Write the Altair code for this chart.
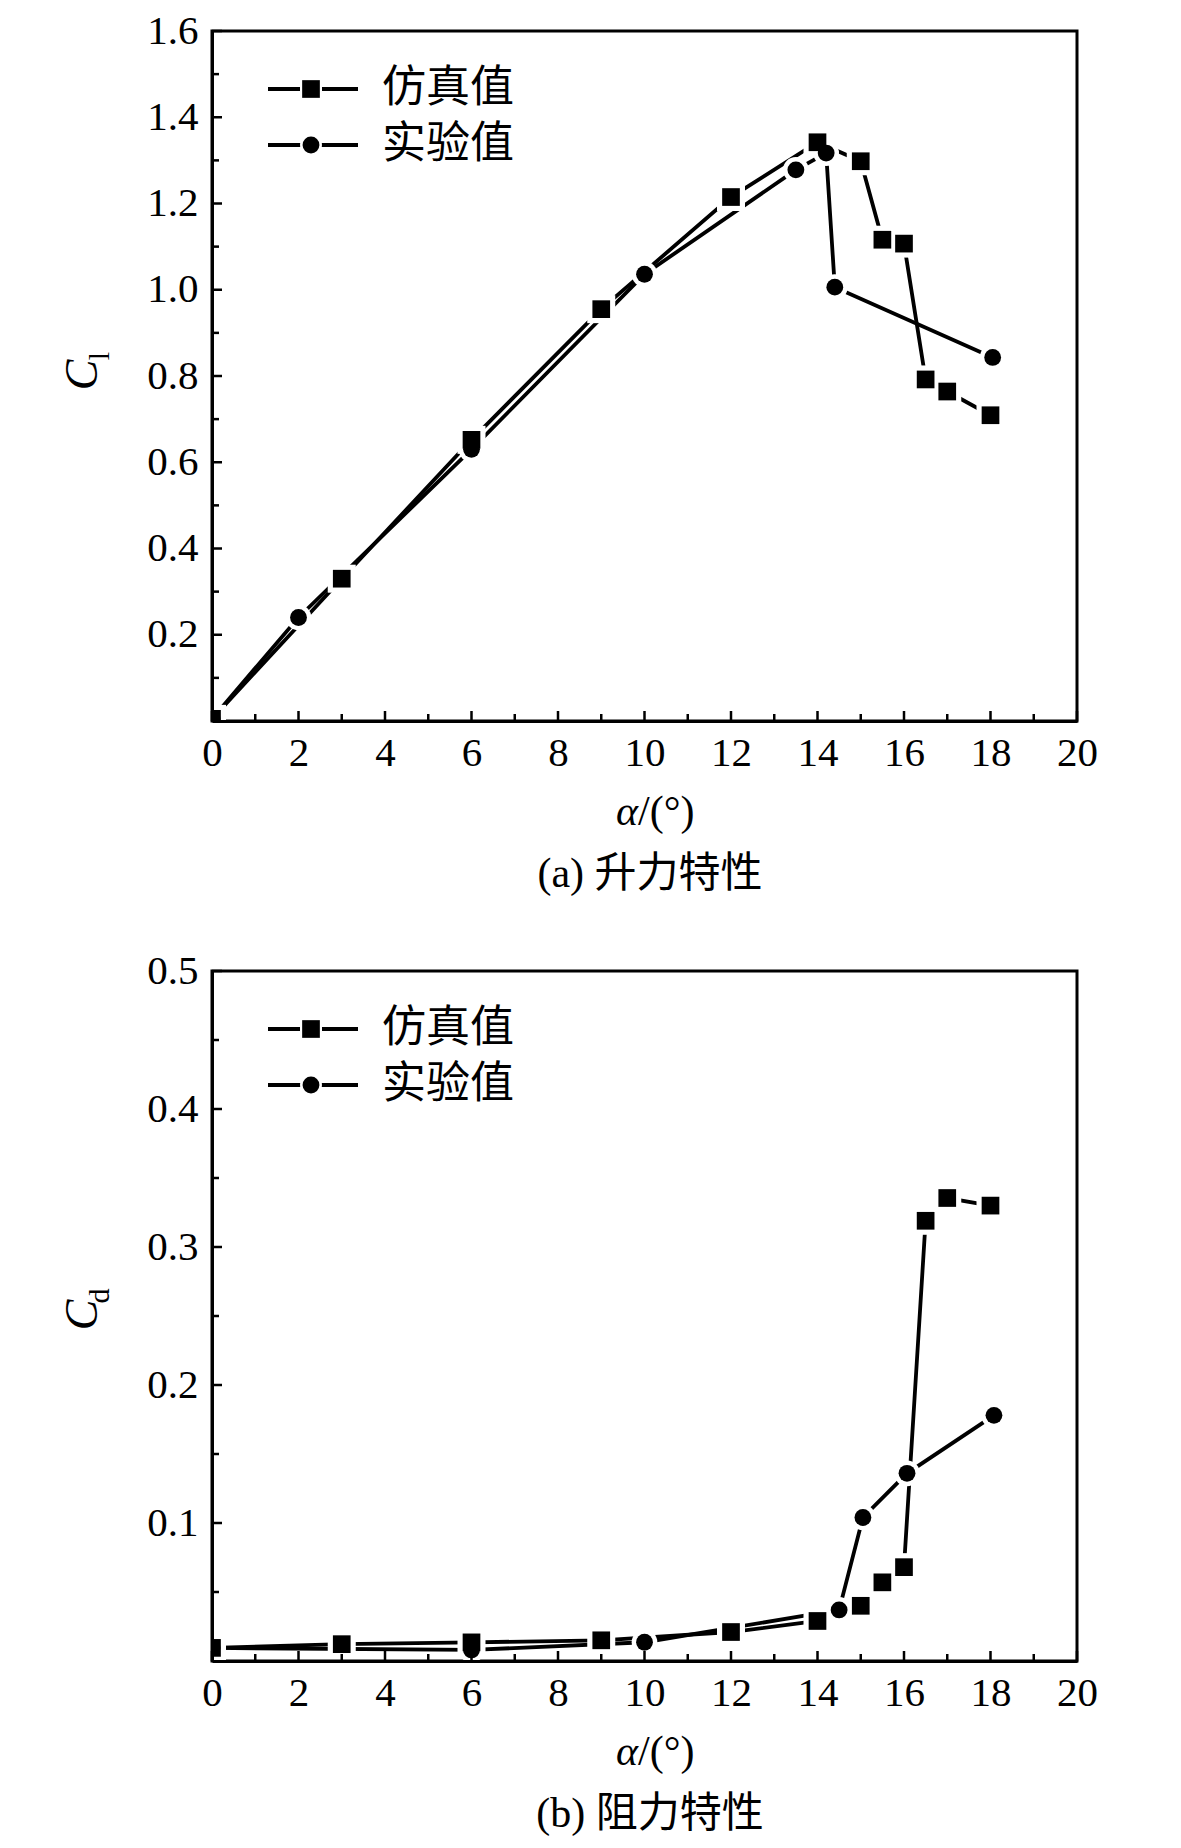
import altair as alt
import pandas as pd

# ---------------- data ----------------
alpha_sim_lift = [0, 3, 6, 9, 12, 14, 15, 15.5, 16, 16.5, 17, 18]
cl_sim = [0.005, 0.33, 0.652, 0.955, 1.215, 1.342, 1.298, 1.116, 1.107, 0.792, 0.764, 0.709]
alpha_exp_lift = [0, 2, 6, 10, 13.5, 14.2, 14.4, 18.05]
cl_exp = [0.005, 0.24, 0.63, 1.036, 1.278, 1.317, 1.006, 0.843]

alpha_sim_drag = [0, 3, 6, 9, 12, 14, 15, 15.5, 16, 16.5, 17, 18]
cd_sim = [0.0095, 0.0122, 0.0135, 0.015, 0.021, 0.029, 0.040, 0.057, 0.068, 0.319, 0.3355, 0.330]
alpha_exp_drag = [0, 6, 10, 14.5, 15.05, 16.07, 18.08]
cd_exp = [0.0095, 0.008, 0.0136, 0.037, 0.104, 0.136, 0.178]

x_major = [0, 2, 4, 6, 8, 10, 12, 14, 16, 18, 20]
x_minor = [1, 3, 5, 7, 9, 11, 13, 15, 17, 19]
cl_major = [0.2, 0.4, 0.6, 0.8, 1.0, 1.2, 1.4, 1.6]
cl_minor = [0.1, 0.3, 0.5, 0.7, 0.9, 1.1, 1.3, 1.5]
cd_major = [0.1, 0.2, 0.3, 0.4, 0.5]
cd_minor = [0.05, 0.15, 0.25, 0.35, 0.45]

series_names = ["仿真值", "实验值"]
captions = ["(a) 升力特性", "(b) 阻力特性"]
y_symbols = [("C", "l"), ("C", "d")]

# ---------------- styling ----------------
W, H = 865, 690
SERIF = "Liberation Serif, Times New Roman, serif"
MIXED = "Liberation Serif, Noto Sans CJK SC"
ONE = pd.DataFrame({"k": [0]})


def txt(s, x, y, size, font=SERIF, italic=False, angle=0, align="center", baseline="middle"):
    kw = dict(text=s, font=font, fontSize=size, align=align, baseline=baseline, color="black")
    if italic:
        kw["fontStyle"] = "italic"
    if angle:
        kw["angle"] = angle
    return alt.Chart(ONE).mark_text(**kw).encode(x=alt.value(x), y=alt.value(y))


def panel(sa, sv, ea, ev, ymax, ymaj, ymin, ysym, cap):
    xs = alt.Scale(domain=[0, 20], nice=False, zero=False)
    ys = alt.Scale(domain=[0, ymax], nice=False, zero=False)
    common = dict(labelFont=SERIF, labelFontSize=41, labelColor="black",
                  labelOverlap=False, labelFlush=False, ticks=False, domain=True,
                  domainColor="black", domainWidth=3, grid=False, title=None, zindex=1)
    xax = alt.Axis(values=x_major, format="d", labelPadding=12, **common)
    yax = alt.Axis(values=ymaj, format=".1f", labelPadding=14, **common)

    def X(f):
        return alt.X(f, type="quantitative", scale=xs, axis=xax)

    def Y(f):
        return alt.Y(f, type="quantitative", scale=ys, axis=yax)

    sim = pd.DataFrame({"a": sa, "v": sv, "i": list(range(len(sa)))})
    exp = pd.DataFrame({"a": ea, "v": ev, "i": list(range(len(ea)))})

    layers = []
    for df in (sim, exp):
        layers.append(alt.Chart(df).mark_line(color="black", strokeWidth=3.8, clip=True)
                      .encode(x=X("a"), y=Y("v"), order="i:Q"))
    layers.append(alt.Chart(sim).mark_point(shape="square", filled=True, size=784, color="white", opacity=1, clip=True)
                  .encode(x=X("a"), y=Y("v")))
    layers.append(alt.Chart(exp).mark_point(shape="circle", filled=True, size=660, color="white", opacity=1, clip=True)
                  .encode(x=X("a"), y=Y("v")))
    layers.append(alt.Chart(sim).mark_point(shape="square", filled=True, size=313, color="black", opacity=1, clip=True)
                  .encode(x=X("a"), y=Y("v")))
    layers.append(alt.Chart(exp).mark_point(shape="circle", filled=True, size=283, color="black", opacity=1, clip=True)
                  .encode(x=X("a"), y=Y("v")))

    # inward ticks
    layers.append(alt.Chart(pd.DataFrame({"t": x_major})).mark_rule(color="black", strokeWidth=2.5)
                  .encode(x=X("t"), y=alt.value(H), y2=alt.value(H - 10)))
    layers.append(alt.Chart(pd.DataFrame({"t": x_minor})).mark_rule(color="black", strokeWidth=2.5)
                  .encode(x=X("t"), y=alt.value(H), y2=alt.value(H - 7)))
    layers.append(alt.Chart(pd.DataFrame({"t": ymaj})).mark_rule(color="black", strokeWidth=2.5)
                  .encode(y=Y("t"), x=alt.value(0), x2=alt.value(10)))
    layers.append(alt.Chart(pd.DataFrame({"t": ymin})).mark_rule(color="black", strokeWidth=2.5)
                  .encode(y=Y("t"), x=alt.value(0), x2=alt.value(7)))

    # legend
    for k, (name, shape, halo, size) in enumerate(zip(series_names, ["square", "circle"], [484, 480], [313, 283])):
        yy = 58 + 56 * k
        layers.append(alt.Chart(ONE).mark_rule(color="black", strokeWidth=3.8)
                      .encode(x=alt.value(56), x2=alt.value(146), y=alt.value(yy)))
        layers.append(alt.Chart(ONE).mark_point(shape=shape, filled=True, size=halo, color="white", opacity=1)
                      .encode(x=alt.value(99), y=alt.value(yy)))
        layers.append(alt.Chart(ONE).mark_point(shape=shape, filled=True, size=size, color="black", opacity=1)
                      .encode(x=alt.value(99), y=alt.value(yy)))
        layers.append(txt(name, 170, yy, 44, font=MIXED, align="left"))

    # axis titles and caption
    layers.append(txt(ysym[0], -129, 344, 46, italic=True, angle=270))
    layers.append(txt(ysym[1], -112, 325, 30, angle=270))
    layers.append(txt("α", 426, 781, 42, italic=True, align="right"))
    layers.append(txt("/(°)", 426, 781, 42, align="left"))
    layers.append(txt(cap, 438, 843, 42, font=MIXED))

    return alt.layer(*layers).properties(width=W, height=H)


top = panel(alpha_sim_lift, cl_sim, alpha_exp_lift, cl_exp, 1.6, cl_major, cl_minor, y_symbols[0], captions[0])
bottom = panel(alpha_sim_drag, cd_sim, alpha_exp_drag, cd_exp, 0.5, cd_major, cd_minor, y_symbols[1], captions[1])

chart = (
    alt.vconcat(top, bottom, spacing=250, bounds="flush")
    .properties(padding={"left": 50, "top": 0, "right": 5, "bottom": 0}, background="white")
    .configure_view(stroke="black", strokeWidth=3)
)

chart.save("out.html", embed_options={"renderer": "svg", "actions": False})
